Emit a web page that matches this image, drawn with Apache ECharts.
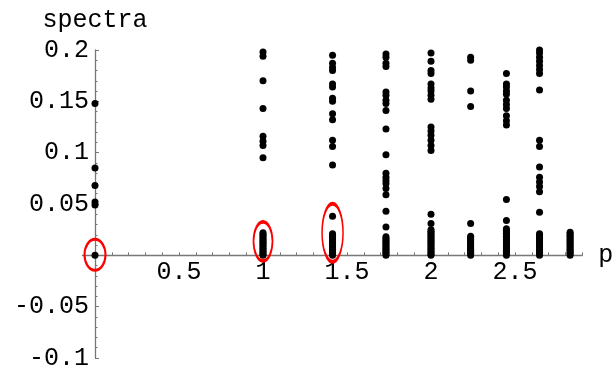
<!DOCTYPE html>
<html>
<head>
<meta charset="utf-8">
<script src="https://cdn.jsdelivr.net/npm/echarts@6/dist/echarts.min.js"></script>
<style>
html,body{margin:0;padding:0;background:#fff;}
#chart{width:616px;height:374px;}
</style>
</head>
<body>
<div id="chart"></div>
<script>
// momentum values p (x positions of the columns)
var pValues = [0, 1, 1.414, 1.732, 2, 2.236, 2.449, 2.646, 2.828];

// spectra values read per column
var spectraP0 = [0.148, 0.085, 0.068, 0.052, 0.049, 0];
var spectraP1 = [0.198, 0.194, 0.170, 0.143, 0.116, 0.111, 0.107, 0.095,
  0.022, 0.0205, 0.019, 0.0175, 0.016, 0.0145, 0.013, 0.0115, 0.010, 0.0085, 0.007, 0.0055, 0.004, 0.0025, 0.001, 0];
var spectraP2 = [0.195, 0.187, 0.183, 0.180, 0.167, 0.164, 0.153, 0.150, 0.138, 0.132, 0.112, 0.106, 0.088, 0.038,
  0.021, 0.0195, 0.018, 0.0165, 0.015, 0.0135, 0.012, 0.0105, 0.009, 0.0075, 0.006, 0.0045, 0.003, 0.0015, 0];
var spectraP3 = [0.196, 0.193, 0.187, 0.184, 0.159, 0.156, 0.151, 0.148, 0.141, 0.123, 0.098,
  0.080, 0.076, 0.073, 0.070, 0.065, 0.059, 0.043, 0.0275,
  0.018, 0.0165, 0.015, 0.0135, 0.012, 0.0105, 0.009, 0.0075, 0.006, 0.0045, 0.003, 0.0015, 0];
var spectraP4 = [0.197, 0.189, 0.180, 0.177, 0.167, 0.163, 0.160, 0.156, 0.152,
  0.125, 0.121, 0.117, 0.112, 0.107, 0.102, 0.040, 0.031,
  0.025, 0.0235, 0.022, 0.0205, 0.019, 0.0175, 0.016, 0.0145, 0.013, 0.0115, 0.010, 0.0085, 0.007, 0.0055, 0.004, 0.0025, 0.001, 0];
var spectraP5 = [0.193, 0.190, 0.160, 0.145, 0.031,
  0.0185, 0.017, 0.0155, 0.014, 0.0125, 0.011, 0.0095, 0.008, 0.0065, 0.005, 0.0035, 0.002, 0];
var spectraP6 = [0.177, 0.167, 0.164, 0.160, 0.157, 0.151, 0.147, 0.143, 0.136, 0.131, 0.127, 0.0545, 0.034,
  0.026, 0.0245, 0.023, 0.0215, 0.020, 0.0185, 0.017, 0.0155, 0.014, 0.0125, 0.011, 0.0095, 0.008, 0.0065, 0.005, 0.0035, 0.002, 0];
var spectraP7 = [0.200, 0.197, 0.193, 0.189, 0.185, 0.181, 0.177, 0.161, 0.112, 0.106, 0.086,
  0.076, 0.0715, 0.067, 0.062, 0.042,
  0.021, 0.0195, 0.018, 0.0165, 0.015, 0.0135, 0.012, 0.0105, 0.009, 0.0075, 0.006, 0.0045, 0.003, 0.0015, 0];
var spectraP8 = [0.0225, 0.021, 0.0195, 0.018, 0.0165, 0.015, 0.0135, 0.012, 0.0105, 0.009, 0.0075, 0.006, 0.0045, 0.003, 0.0015, 0];

// highlighted groups (red ellipses): [p, spectra centre]
var highlightP = [0, 1, 1.414];
var highlightCentre = [0.0005, 0.0136, 0.022];
var highlightSize = [[21, 31], [19, 39], [21, 58]];

// tick labels
var xTickLabels = [0.5, 1, 1.5, 2, 2.5];
var xTickMarks = [0.1,0.2,0.3,0.4,0.5,0.6,0.7,0.8,0.9,1,1.1,1.2,1.3,1.4,1.5,1.6,1.7,1.8,1.9,2,2.1,2.2,2.3,2.4,2.5,2.6,2.7,2.8,2.9];

var columns = [spectraP0, spectraP1, spectraP2, spectraP3, spectraP4, spectraP5, spectraP6, spectraP7, spectraP8];
var points = [];
columns.forEach(function (col, i) {
  col.forEach(function (v) { points.push([pValues[i], v]); });
});
var ellipses = highlightP.map(function (p, i) {
  return { value: [p, highlightCentre[i]], symbolSize: highlightSize[i] };
});

var FONT = 'Liberation Mono';
var AXIS_COLOR = '#777777';

// layout
var W = 616, H = 374;
var GL = 82.4, GR = 33.8, GT = 50, GB = 16;
var X_MIN = -0.075, X_MAX = 2.9, Y_MIN = -0.1, Y_MAX = 0.2;
var gw = W - GL - GR, gh = H - GT - GB;
// shift axes so they cross at the origin
var xAxisOffset = -gh * (0 - Y_MIN) / (Y_MAX - Y_MIN);
var yAxisOffset = -gw * (0 - X_MIN) / (X_MAX - X_MIN);

var chart = echarts.init(document.getElementById('chart'), null, { renderer: 'canvas' });
chart.setOption({
  animation: false,
  backgroundColor: '#ffffff',
  grid: { left: GL, right: GR, top: GT, bottom: GB, containLabel: false, outerBoundsMode: 'none' },
  xAxis: {
    type: 'value',
    min: X_MIN,
    max: X_MAX,
    position: 'bottom',
    offset: xAxisOffset,
    name: 'p',
    nameLocation: 'end',
    nameGap: 16,
    nameTextStyle: { fontFamily: FONT, fontSize: 25, color: '#000', padding: [0, 0, 6, 0] },
    splitLine: { show: false },
    axisLine: { show: true, onZero: false, lineStyle: { color: AXIS_COLOR, width: 1.3 } },
    axisTick: { show: true, inside: true, length: 3, customValues: xTickMarks, lineStyle: { color: AXIS_COLOR, width: 1 } },
    axisLabel: {
      customValues: xTickLabels,
      fontFamily: FONT, fontSize: 25, color: '#000', margin: 5,
      formatter: function (v) { return String(v); }
    }
  },
  yAxis: {
    type: 'value',
    min: Y_MIN,
    max: Y_MAX,
    interval: 0.05,
    position: 'left',
    offset: yAxisOffset,
    name: 'spectra',
    nameLocation: 'end',
    nameGap: 17,
    nameTextStyle: { fontFamily: FONT, fontSize: 25, color: '#000' },
    splitLine: { show: false },
    axisLine: { show: true, onZero: false, lineStyle: { color: AXIS_COLOR, width: 1.3 } },
    axisTick: { show: true, inside: true, length: 4, lineStyle: { color: AXIS_COLOR, width: 1 } },
    minorTick: { show: true, splitNumber: 5, length: 2.5, lineStyle: { color: AXIS_COLOR, width: 1 } },
    axisLabel: {
      fontFamily: FONT, fontSize: 25, color: '#000', margin: 6,
      formatter: function (v) { return Math.abs(v) < 1e-9 ? '' : String(Math.round(v * 1000) / 1000); }
    }
  },
  series: [
    {
      type: 'scatter',
      data: points,
      symbol: 'circle',
      symbolSize: 7,
      itemStyle: { color: '#000000', opacity: 1 },
      clip: true,
      silent: true
    },
    {
      type: 'scatter',
      data: ellipses,
      symbol: 'circle',
      itemStyle: { color: 'rgba(0,0,0,0)', borderColor: '#ff0000', borderWidth: 2.5, opacity: 1 },
      clip: false,
      silent: true,
      z: 3
    }
  ]
});
</script>
</body>
</html>
